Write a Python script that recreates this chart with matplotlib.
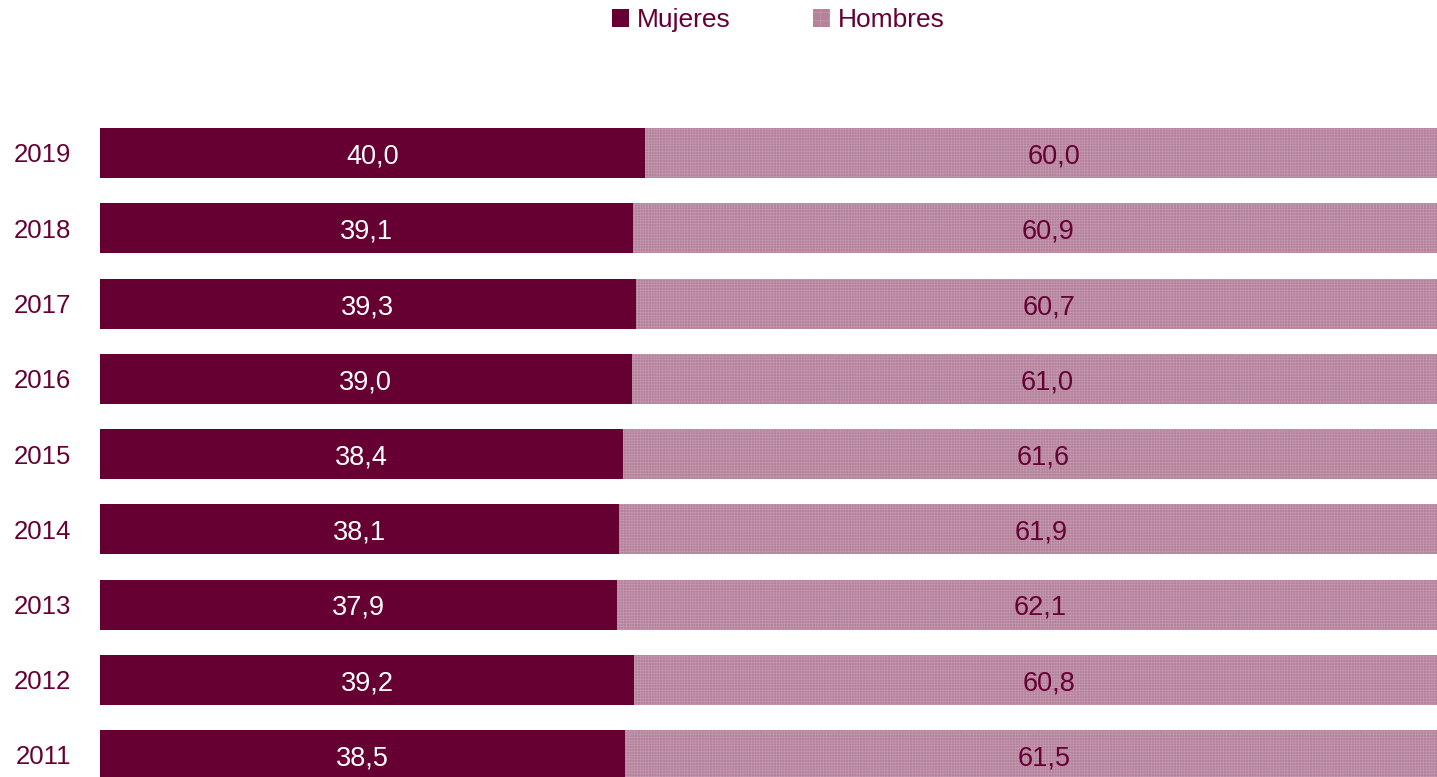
import matplotlib
matplotlib.use("Agg")
import matplotlib.pyplot as plt
from matplotlib.patches import Patch
from matplotlib.transforms import blended_transform_factory, offset_copy

plt.rcParams['font.family'] = ['Liberation Sans', 'DejaVu Sans']
plt.rcParams['hatch.linewidth'] = 0.4

years = ["2011", "2012", "2013", "2014", "2015", "2016", "2017", "2018", "2019"]
mujeres = [38.5, 39.2, 37.9, 38.1, 38.4, 39.0, 39.3, 39.1, 40.0]
hombres = [61.5, 60.8, 62.1, 61.9, 61.6, 61.0, 60.7, 60.9, 60.0]
series_names = ["Mujeres", "Hombres"]

C_M = "#660033"
C_H = "#B5829C"
C_HATCH = "#C69CB2"
C_TXT = "#660033"

W, H = 1437, 777
fig = plt.figure(figsize=(W / 100, H / 100), dpi=100)
top_px = 90
step = 75.25
c_top = 153  # centre of top bar, px from top
ax_w = 1363
ax = fig.add_axes([100 / W, 0, ax_w / W, (H - top_px) / H])
ax.set_facecolor('none')

ypos = list(range(len(years)))
bh = 50 / step
ax.barh(ypos, mujeres, height=bh, color=C_M, edgecolor='none')
ax.barh(ypos, hombres, left=mujeres, height=bh, color=C_H,
        edgecolor=C_HATCH, linewidth=0, hatch='++++++')

base_off = 10.5 / step
for y, m, h in zip(ypos, mujeres, hombres):
    ax.text(m / 2, y - base_off, f"{m:.1f}".replace('.', ','), ha='center', va='baseline',
            color='white', fontsize=19.5)
    ax.text(m + h / 2, y - base_off, f"{h:.1f}".replace('.', ','), ha='center', va='baseline',
            color=C_TXT, fontsize=19.5)

ax.set_xlim(0, 100)
y_top_c = len(years) - 1
ax.set_ylim(y_top_c - (H - c_top) / step, y_top_c + (c_top - top_px) / step)
ax.set_yticks([])
ax.set_xticks([])
for s in ax.spines.values():
    s.set_visible(False)

tr = blended_transform_factory(ax.transAxes, ax.transData)
tr = offset_copy(tr, fig=fig, x=-29, y=0, units='dots')
for y, yl in zip(ypos, years):
    ax.text(0, y - 9.5 / step, yl, transform=tr, ha='right', va='baseline',
            color=C_TXT, fontsize=18.5)

handles = [Patch(facecolor=C_M, edgecolor='none'),
           Patch(facecolor=C_H, edgecolor=C_HATCH, hatch='++', linewidth=0)]
leg = fig.legend(handles, series_names, loc='center',
                 bbox_to_anchor=(778.5 / W, 1 - 20 / H),
                 ncol=2, frameon=False, fontsize=19, handlelength=0.65, handleheight=0.65,
                 handletextpad=0.3, columnspacing=3.1, borderaxespad=0.0, borderpad=0.0)
for t in leg.get_texts():
    t.set_color(C_TXT)

fig.savefig("out.png", dpi=100)
